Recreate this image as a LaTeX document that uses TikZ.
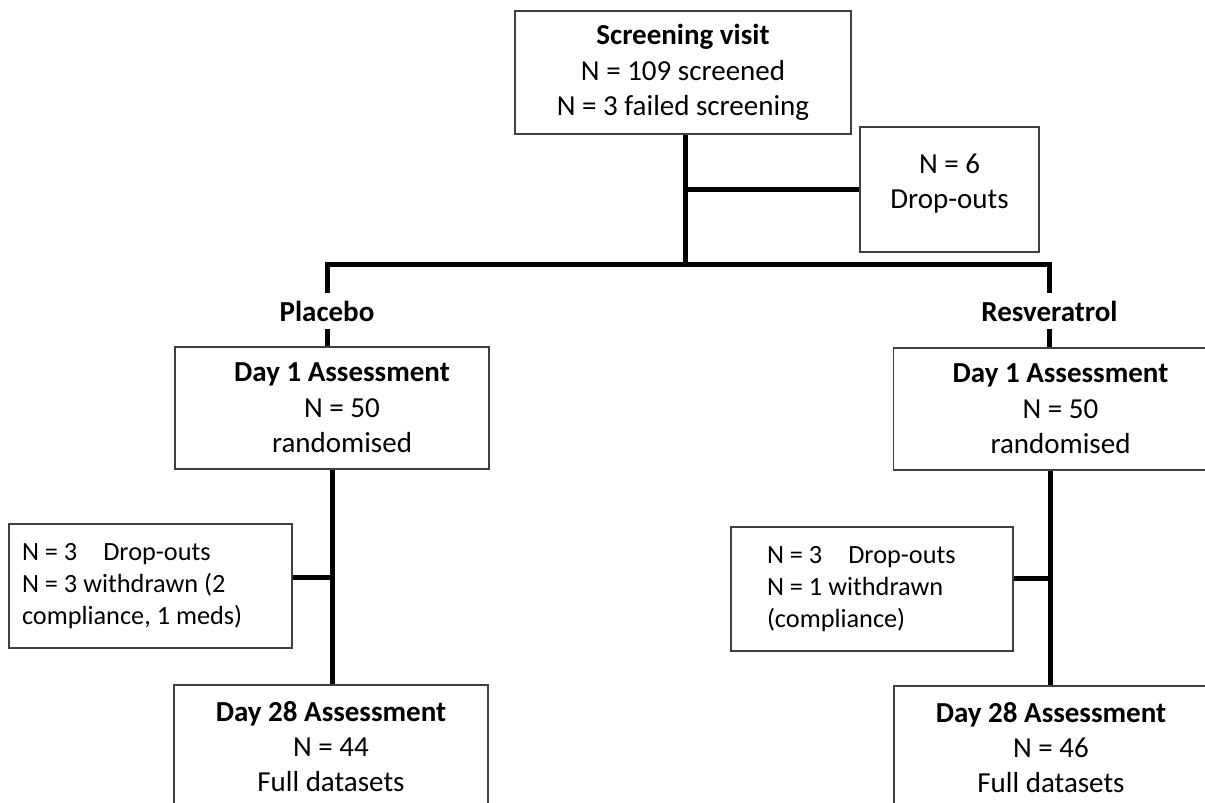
\documentclass[tikz,border=0pt]{standalone}
\usepackage{fontspec}
\setmainfont{Carlito}
\newcommand\mainfs{\fontsize{29}{35.4}\selectfont}
\newcommand\dropfs{\fontsize{26.3}{32}\selectfont}
\tikzset{
  box/.style={draw=black!75, line width=1.2pt, inner sep=0pt, align=center, font=\mainfs, fill=white},
  dropbox/.style={draw=black!75, line width=1.2pt, inner ysep=0pt, align=flush left, font=\dropfs, fill=white},
  grp/.style={inner sep=0pt, minimum height=36pt, font=\mainfs\bfseries},
  conn/.style={line width=5pt, line join=miter},
}
\begin{document}
\begin{tikzpicture}[x=1pt, y=-1pt]
\useasboundingbox (0,0) rectangle (1205,803);
\clip (0,0) rectangle (1205,803);
\fill[white] (0,0) rectangle (1205,803);

% nodes
\node[box, minimum width=336pt, minimum height=123pt] (sv) at (683,72.5)
  {\textbf{Screening visit}\\N = 109 screened\\N = 3 failed screening};
\node[box, minimum width=179pt, minimum height=125pt, text depth=16pt] (do1) at (949.5,189.5)
  {N = 6\\Drop-outs};
\coordinate (bus) at (685,264.5);

\node[grp] (plbl) at (327,311) {Placebo};
\node[grp] (rlbl) at (1049.5,311) {Resveratrol};

\node[box, minimum width=314pt, minimum height=122pt] (d1p) at (332,408)
  {\hspace*{20pt}\textbf{Day 1 Assessment}\\\hspace*{20pt}N = 50\\\hspace*{20pt}randomised};
\node[box, minimum width=314pt, minimum height=122pt] (d1r) at (1050.5,409)
  {\hspace*{20pt}\textbf{Day 1 Assessment}\\\hspace*{20pt}N = 50\\\hspace*{20pt}randomised};

\node[dropbox, inner xsep=13pt, text width=257pt, minimum height=124pt] (dop) at (150.5,586)
  {N = 3\hspace{26pt}Drop-outs\\N = 3 withdrawn (2\\compliance, 1 meds)};
\node[dropbox, inner xsep=36pt, text width=210pt, minimum height=124pt] (dor) at (872,589)
  {N = 3\hspace{26pt}Drop-outs\\N = 1 withdrawn\\(compliance)};

\node[box, minimum width=314pt, minimum height=123pt] (d28p) at (331,746.5)
  {\textbf{Day 28 Assessment}\\N = 44\\Full datasets};
\node[box, minimum width=314pt, minimum height=123pt] (d28r) at (1051,747.5)
  {\textbf{Day 28 Assessment}\\N = 46\\Full datasets};

% connectors
\draw[conn] (bus |- sv.south) -- (bus);
\draw[conn] (bus |- do1.west) -- (do1.west);
\draw[conn] (plbl.north) |- (bus) -| (rlbl.north);
\draw[conn] (plbl.south) -- (plbl.south |- d1p.north);
\draw[conn] (rlbl.south) -- (rlbl.south |- d1r.north);
\draw[conn] (d1p.south) -- (d1p.south |- d28p.north);
\draw[conn] (d1r.south) -- (d1r.south |- d28r.north);
\draw[conn] ([yshift=8.5pt]dop.east) -- ([yshift=8.5pt]dop.east -| d1p.south);
\draw[conn] ([yshift=11pt]dor.east) -- ([yshift=11pt]dor.east -| d1r.south);
\end{tikzpicture}
\end{document}
